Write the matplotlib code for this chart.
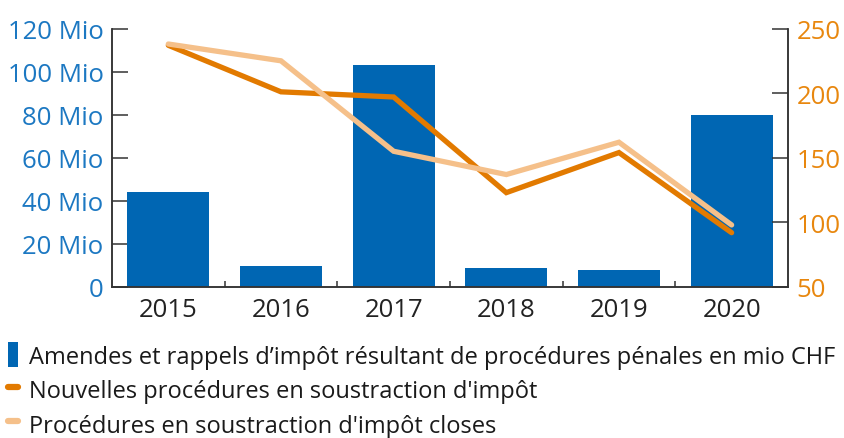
import matplotlib
matplotlib.use("Agg")
import matplotlib.pyplot as plt
from matplotlib.patches import Patch
from matplotlib.lines import Line2D

# data
years = ["2015", "2016", "2017", "2018", "2019", "2020"]
amendes_mio = [44.1, 9.7, 103.0, 8.8, 7.9, 79.8]
nouvelles = [237, 201, 197, 123, 154, 92]
closes = [238, 225, 155, 137, 162, 98]

left_ticks = [0, 20, 40, 60, 80, 100, 120]
left_labels = ["0", "20 Mio", "40 Mio", "60 Mio", "80 Mio", "100 Mio", "120 Mio"]
right_ticks = [50, 100, 150, 200, 250]

legend_labels = [
    "Amendes et rappels d\u2019imp\u00f4t r\u00e9sultant de proc\u00e9dures p\u00e9nales en mio CHF",
    "Nouvelles proc\u00e9dures en soustraction d'imp\u00f4t",
    "Proc\u00e9dures en soustraction d'imp\u00f4t closes",
]

BLUE = "#0066B3"
BLUE_TXT = "#1C78C2"
DARK_OR = "#E27A00"
LIGHT_OR = "#F5C08A"
OR_TXT = "#E8870E"
AXIS = "#333333"

plt.rcParams["font.family"] = ["Open Sans", "DejaVu Sans"]

fig = plt.figure(figsize=(8.44, 4.39), dpi=100)
ax = fig.add_axes([0.1327, 0.344, 0.8009, 0.5888])
x = list(range(len(years)))

ax.bar(x, amendes_mio, width=0.73, color=BLUE, zorder=2)
ax.set_xlim(-0.5, len(years) - 0.5)
ax.set_ylim(0, 120)
ax.set_yticks(left_ticks)
ax.set_yticklabels(left_labels)
ax.set_xticks(x)
ax.set_xticklabels(years)
ax.set_xticks([i + 0.5 for i in x[:-1]], minor=True)
ax.tick_params(axis="y", direction="in", length=11.5, width=1.1, color=AXIS,
               labelsize=18.5, labelcolor=BLUE_TXT, pad=6)
ax.tick_params(axis="x", which="major", length=0, labelsize=18.5, labelcolor="#222222", pad=7)
ax.tick_params(axis="x", which="minor", direction="in", length=4, width=1.1, color=AXIS)
for s in ["left", "bottom", "right"]:
    ax.spines[s].set_color(AXIS)
    ax.spines[s].set_linewidth(1.1)
ax.spines["top"].set_visible(False)

ax2 = ax.twinx()
ax2.plot(x, nouvelles, color=DARK_OR, lw=3.8, solid_capstyle="round", solid_joinstyle="miter")
ax2.plot(x, closes, color=LIGHT_OR, lw=3.8, solid_capstyle="round", solid_joinstyle="miter")
ax2.set_ylim(50, 250)
ax2.set_yticks(right_ticks)
ax2.tick_params(axis="y", direction="in", length=11.5, width=1.1, color=AXIS,
                labelsize=18.5, labelcolor=OR_TXT, pad=6)
for s in ["left", "bottom", "right"]:
    ax2.spines[s].set_color(AXIS)
    ax2.spines[s].set_linewidth(1.1)
ax2.spines["top"].set_visible(False)

handles = [
    Patch(facecolor=BLUE, edgecolor="none"),
    Line2D([0], [0], color=DARK_OR, lw=4.5, solid_capstyle="round"),
    Line2D([0], [0], color=LIGHT_OR, lw=4.5, solid_capstyle="round"),
]
fig.legend(handles, legend_labels, loc="upper left", bbox_to_anchor=(0.009, 0.218),
           frameon=False, fontsize=17, handlelength=0.45, handleheight=1.25,
           handletextpad=0.45, labelspacing=0.34, borderpad=0, borderaxespad=0,
           labelcolor="#1a1a1a")

fig.savefig("out.png", dpi=100)
